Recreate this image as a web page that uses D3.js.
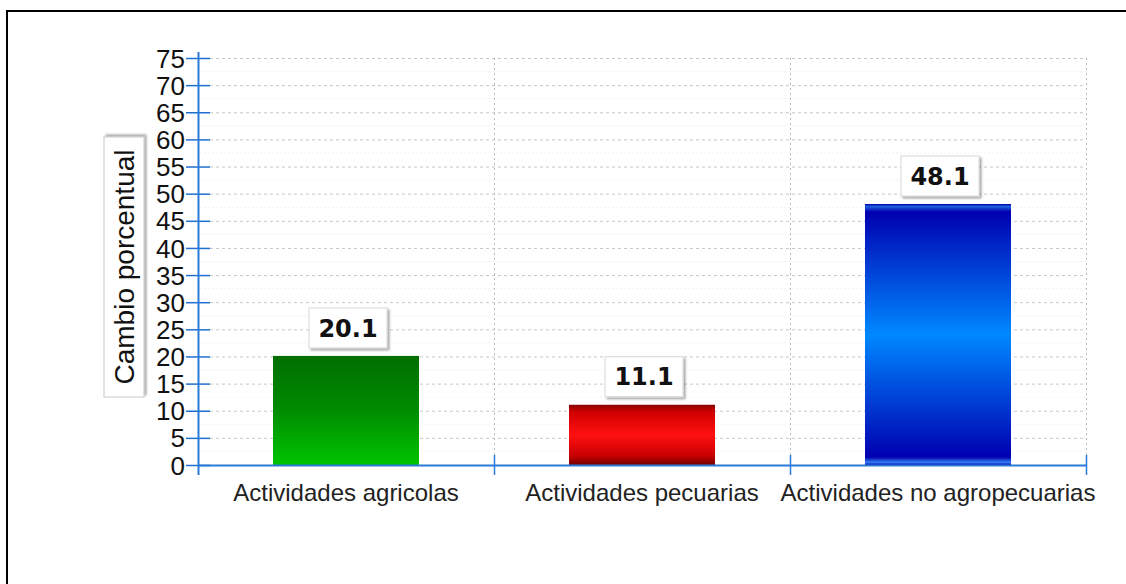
<!DOCTYPE html>
<html><head><meta charset="utf-8">
<script src="https://cdn.jsdelivr.net/npm/d3@7"></script>
<style>body{margin:0;background:#fff}svg{display:block}</style>
</head><body>
<svg id="c" width="1126" height="584"></svg>
<script>
const categories = ["Actividades agricolas","Actividades pecuarias","Actividades no agropecuarias"];
const values = [20.1, 11.1, 48.1];
const yTicks = [0,5,10,15,20,25,30,35,40,45,50,55,60,65,70,75];
const yLabel = "Cambio porcentual";

const svg = d3.select("#c");
const L = 198, R = 1086, T = 58, B = 465;
const x = d3.scaleBand().domain(categories).range([L, R]).paddingInner(0).paddingOuter(0);
const y = d3.scaleLinear().domain([0, 75]).range([B, T]);

// frame
svg.append("line").attr("x1",7).attr("x2",1126).attr("y1",11).attr("y2",11).attr("stroke","#000").attr("stroke-width",2);
svg.append("line").attr("x1",7).attr("x2",7).attr("y1",10).attr("y2",584).attr("stroke","#000").attr("stroke-width",2);

const defs = svg.append("defs");
function grad(id, stops){
  const g = defs.append("linearGradient").attr("id",id).attr("x1",0).attr("y1",0).attr("x2",0).attr("y2",1);
  stops.forEach(s=>g.append("stop").attr("offset",s[0]).attr("stop-color",s[1]));
}
grad("g0",[[0,"#006e00"],[0.5,"#008c00"],[1,"#00c400"]]);
grad("g1",[[0,"#8a0000"],[0.12,"#d00000"],[0.5,"#ff1010"],[0.85,"#c80000"],[1,"#700000"]]);
grad("g2",[[0,"#0000a8"],[0.01,"#2060e0"],[0.03,"#0000b0"],[0.5,"#0088ff"],[0.97,"#0000b0"],[0.99,"#3080f0"],[1,"#0000b0"]]);
const fills = ["url(#g0)","url(#g1)","url(#g2)"];
const shadow = defs.append("filter").attr("id","sh").attr("x","-20%").attr("y","-20%").attr("width","150%").attr("height","150%");
shadow.append("feDropShadow").attr("dx",2).attr("dy",2).attr("stdDeviation",1.2).attr("flood-color","#000").attr("flood-opacity",0.35);

// minor grid
const minor = d3.range(2.5, 75, 5);
svg.append("g").selectAll("line").data(minor).join("line")
  .attr("x1",L+2).attr("x2",R).attr("y1",d=>y(d)).attr("y2",d=>y(d))
  .attr("stroke","#eef3fa").attr("stroke-width",1).attr("stroke-dasharray","2,2");
// major grid
svg.append("g").selectAll("line").data(yTicks.filter(d=>d>0)).join("line")
  .attr("x1",L+12).attr("x2",R).attr("y1",d=>y(d)+0.5).attr("y2",d=>y(d)+0.5)
  .attr("stroke","#c4c8cc").attr("stroke-width",1).attr("stroke-dasharray","3,3");
// vertical grid at band boundaries
const bounds = categories.map(c=>x(c)+x.bandwidth());
svg.append("g").selectAll("line").data(bounds).join("line")
  .attr("x1",d=>d+0.5).attr("x2",d=>d+0.5).attr("y1",T).attr("y2",B)
  .attr("stroke","#b8bcc0").attr("stroke-width",1).attr("stroke-dasharray","2,3");

// bars
const bw = 146;
svg.append("g").selectAll("rect").data(values).join("rect")
  .attr("x",(d,i)=>x(categories[i])+x.bandwidth()/2-bw/2)
  .attr("width",bw)
  .attr("y",d=>y(d))
  .attr("height",d=>y(0)-y(d))
  .attr("fill",(d,i)=>fills[i]);

// axes
const yAxis = d3.axisLeft(y).tickValues(yTicks).tickSize(0).tickPadding(13);
const gy = svg.append("g").attr("transform",`translate(${L},0)`).call(yAxis);
gy.select(".domain").remove();
gy.selectAll("text").attr("font-family","Liberation Sans, Arial, sans-serif").attr("font-size",26).attr("fill","#111").attr("dy","0.35em");
svg.append("g").selectAll("line").data(yTicks).join("line")
  .attr("x1",L-12).attr("x2",L+12).attr("y1",d=>y(d)+0.5).attr("y2",d=>y(d)+0.5)
  .attr("stroke","#1f6fd0").attr("stroke-width",1.5);
svg.append("line").attr("x1",L+0.5).attr("x2",L+0.5).attr("y1",T-6).attr("y2",B+10)
  .attr("stroke","#2a7ad8").attr("stroke-width",2);
svg.append("line").attr("x1",L).attr("x2",R).attr("y1",B+0.5).attr("y2",B+0.5)
  .attr("stroke","#2a7ad8").attr("stroke-width",2);
svg.append("g").selectAll("line").data(bounds).join("line")
  .attr("x1",d=>d+0.5).attr("x2",d=>d+0.5).attr("y1",B-10).attr("y2",B+10)
  .attr("stroke","#2a7ad8").attr("stroke-width",1.5);

// x labels
const xAxis = d3.axisBottom(x).tickSize(0).tickPadding(19);
const gx = svg.append("g").attr("transform",`translate(0,${B})`).call(xAxis);
gx.select(".domain").remove();
gx.selectAll("text").attr("font-family","Liberation Sans, Arial, sans-serif").attr("font-size",24).attr("fill","#222");

// value labels
const lg = svg.append("g").selectAll("g").data(values).join("g")
  .attr("transform",(d,i)=>`translate(${x(categories[i])+x.bandwidth()/2+2},${y(d)-28})`);
lg.append("rect").attr("x",-39).attr("y",-20).attr("width",78).attr("height",40)
  .attr("fill","#fff").attr("stroke","#d8d8d8").attr("stroke-width",1).attr("filter","url(#sh)");
lg.append("text").attr("text-anchor","middle").attr("dy","0.36em")
  .attr("font-family","DejaVu Sans, Verdana, sans-serif").attr("font-weight","bold").attr("font-size",24)
  .attr("fill","#111").text(d=>d.toFixed(1));

// y label
const yl = svg.append("g").attr("transform","translate(124,267) rotate(-90)");
yl.append("rect").attr("x",-130).attr("y",-20).attr("width",260).attr("height",40)
  .attr("fill","#fff").attr("stroke","#c8c8c8").attr("stroke-width",1).attr("filter","url(#sh)");
yl.append("text").attr("text-anchor","middle").attr("dy","0.36em")
  .attr("font-family","Liberation Sans, Arial, sans-serif").attr("font-size",28).attr("fill","#111").text(yLabel);
</script>
</body></html>
